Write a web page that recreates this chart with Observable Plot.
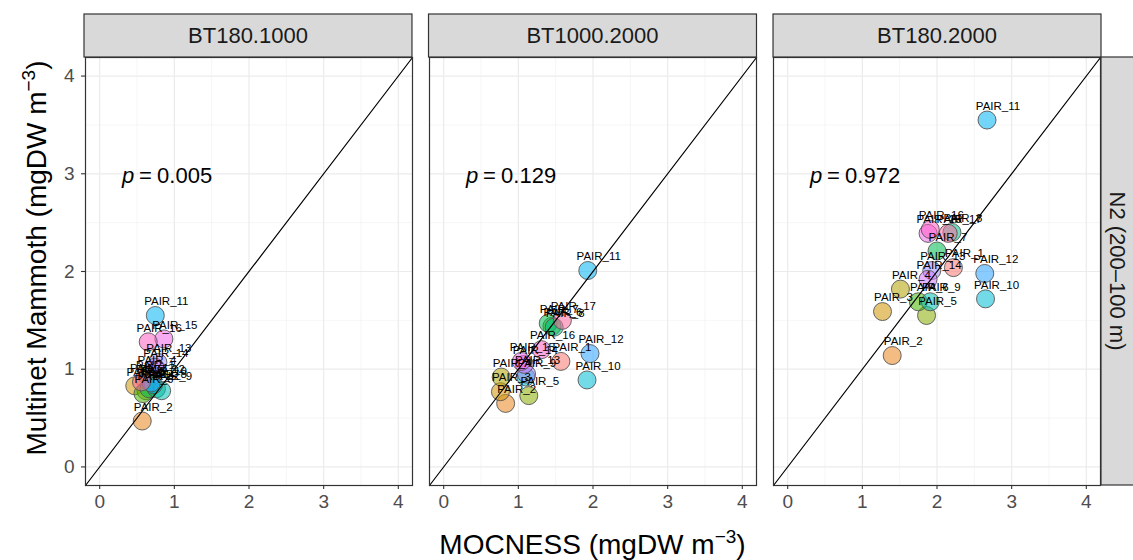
<!DOCTYPE html>
<html>
<head>
<meta charset="utf-8">
<script src="https://cdn.jsdelivr.net/npm/d3@7"></script>
<script src="https://cdn.jsdelivr.net/npm/@observablehq/plot@0.6"></script>
<style>
  html, body { margin: 0; padding: 0; background: #fff; overflow: hidden; }
  #chart svg { display: block; }
  #chart g[aria-label="x-axis tick label"], #chart g[aria-label="y-axis tick label"] { fill: #4d4d4d; }
</style>
</head>
<body>
<div id="chart"></div>
<script>
// ---------- data ----------
const panels = ["BT180.1000", "BT1000.2000", "BT180.2000"];
const rowStrip = "N2 (200\u2013100 m)";
const pairs = ["PAIR_1","PAIR_2","PAIR_3","PAIR_4","PAIR_5","PAIR_6","PAIR_7","PAIR_8","PAIR_9",
               "PAIR_10","PAIR_11","PAIR_12","PAIR_13","PAIR_14","PAIR_15","PAIR_16","PAIR_17"];

// MOCNESS (x) and Multinet Mammoth (y) biomass per pair, per panel
const mocness_BT180_1000  = [0.60,0.57,0.47,0.62,0.62,0.58,0.66,0.76,0.83,0.72,0.745,0.69,0.78,0.74,0.86,0.65,0.56];
const mammoth_BT180_1000  = [0.90,0.47,0.83,0.95,0.78,0.75,0.80,0.80,0.78,0.84,1.55,0.86,1.07,1.02,1.31,1.28,0.87];
const mocness_BT1000_2000 = [1.57,0.83,0.76,0.77,1.14,1.45,1.40,1.48,1.10,1.92,1.93,1.96,1.11,1.08,1.04,1.31,1.59];
const mammoth_BT1000_2000 = [1.08,0.65,0.77,0.92,0.73,1.44,1.47,1.43,0.92,0.89,2.01,1.16,0.95,1.05,1.08,1.20,1.50];
const mocness_BT180_2000  = [2.22,1.40,1.27,1.51,1.86,1.75,2.00,2.20,1.91,2.65,2.67,2.64,1.93,1.88,1.88,1.91,2.15];
const mammoth_BT180_2000  = [2.04,1.14,1.59,1.82,1.55,1.69,2.21,2.40,1.69,1.72,3.55,1.98,2.01,1.92,2.39,2.43,2.39];

const pValues = ["0.005", "0.129", "0.972"];

const majorTicks = [0, 1, 2, 3, 4];
const minorTicks = [0.5, 1.5, 2.5, 3.5];

// ---------- layout / style ----------
const W = 1133, H = 560;
const M = {left: 84, right: 32, top: 57, bottom: 75};
const lim = [-0.19, 4.19];
const pLabelPos = {x: 0.93, y: 3};
const font = '"Liberation Sans", Arial, Helvetica, sans-serif';

// ggplot2-style hue palette (polar LUV, c=100, l=65)
function hclLuv(h, c, l) {
  const Yn = 100, un = 0.1978398, vn = 0.4683363;
  const hr = h * Math.PI / 180;
  const U = c * Math.cos(hr), V = c * Math.sin(hr);
  const Y = Yn * (l > 7.999592 ? Math.pow((l + 16) / 116, 3) : l / 903.3);
  const u = U / (13 * l) + un, v = V / (13 * l) + vn;
  const X = 9 * Y * u / (4 * v);
  const Z = -X / 3 - 5 * Y + 3 * Y / v;
  const g = t => { t = t / Yn; const s = t > 0.0031308 ? 1.055 * Math.pow(t, 1 / 2.4) - 0.055 : 12.92 * t; return Math.max(0, Math.min(1, s)); };
  const r = g(3.240479 * X - 1.537150 * Y - 0.498535 * Z);
  const gg = g(-0.969256 * X + 1.875992 * Y + 0.041556 * Z);
  const b = g(0.055648 * X - 0.204043 * Y + 1.057311 * Z);
  return d3.rgb(r * 255, gg * 255, b * 255).formatHex();
}
const palette = pairs.map((_, i) => hclLuv(15 + i * 360 / pairs.length, 100, 65));

const mocness = [mocness_BT180_1000, mocness_BT1000_2000, mocness_BT180_2000];
const mammoth = [mammoth_BT180_1000, mammoth_BT1000_2000, mammoth_BT180_2000];
const rows = panels.flatMap((panel, k) =>
  pairs.map((pair, i) => ({panel, pair, mocness: mocness[k][i], mammoth: mammoth[k][i]})));
const pRows = panels.map((panel, k) => ({panel, p: pValues[k]}));
const diag = lim.map(v => ({x: v, y: v}));
const intFmt = d => `${d}`;

const plot = Plot.plot({
  width: W, height: H,
  marginLeft: M.left, marginRight: M.right, marginTop: M.top, marginBottom: M.bottom,
  style: {fontFamily: font, background: "#fff", overflow: "hidden"},
  fx: {domain: panels, axis: null, paddingInner: 0.048, paddingOuter: 0},
  x: {domain: lim},
  y: {domain: lim},
  color: {domain: pairs, range: palette},
  marks: [
    Plot.ruleX(minorTicks, {stroke: "#f0f0f0", strokeWidth: 0.6}),
    Plot.ruleY(minorTicks, {stroke: "#f0f0f0", strokeWidth: 0.6}),
    Plot.ruleX(majorTicks, {stroke: "#ebebeb", strokeWidth: 1.2}),
    Plot.ruleY(majorTicks, {stroke: "#ebebeb", strokeWidth: 1.2}),
    Plot.dot(rows, {fx: "panel", x: "mocness", y: "mammoth", r: 9, fill: "pair",
                    fillOpacity: 0.55, stroke: "#555", strokeWidth: 0.9}),
    Plot.text(rows, {fx: "panel", x: "mocness", y: "mammoth", text: "pair",
                     dx: 11, dy: -14, fontSize: 11.5, fill: "#000"}),
    Plot.line(diag, {x: "x", y: "y", stroke: "#000", strokeWidth: 1.2}),
    Plot.text(pRows, {fx: "panel", x: () => pLabelPos.x, y: () => pLabelPos.y, text: () => "p",
                      fontStyle: "italic", fontSize: 22, textAnchor: "start", dx: -47, dy: 2, fill: "#000"}),
    Plot.text(pRows, {fx: "panel", x: () => pLabelPos.x, y: () => pLabelPos.y, text: () => "=",
                      fontSize: 22, textAnchor: "start", dx: -30, dy: 2, fill: "#000"}),
    Plot.text(pRows, {fx: "panel", x: () => pLabelPos.x, y: () => pLabelPos.y, text: "p",
                      fontSize: 22, textAnchor: "start", dx: -12, dy: 2, fill: "#000"}),
    Plot.frame({stroke: "#333", strokeWidth: 1.2}),
    Plot.axisX(majorTicks, {tickSize: 4, tickPadding: 5, fontSize: 19, label: null, tickFormat: intFmt, stroke: "#333", strokeWidth: 1.1}),
    Plot.axisY(majorTicks, {tickSize: 4, tickPadding: 7, fontSize: 19, label: null, tickFormat: intFmt, stroke: "#333", strokeWidth: 1.1})
  ]
});

document.getElementById("chart").appendChild(plot);

// ---------- strips & axis titles ----------
const svg = d3.select(plot);
const band = d3.scaleBand(panels, [M.left, W - M.right]).paddingInner(0.048).paddingOuter(0);
const stripTop = 14;
const g = svg.append("g").attr("font-family", font);
panels.forEach(p => {
  g.append("rect")
    .attr("x", band(p)).attr("y", stripTop)
    .attr("width", band.bandwidth()).attr("height", M.top - stripTop)
    .attr("fill", "#d9d9d9").attr("stroke", "#333").attr("stroke-width", 1.2);
  g.append("text")
    .attr("x", band(p) + band.bandwidth() / 2).attr("y", (stripTop + M.top) / 2)
    .attr("text-anchor", "middle").attr("dominant-baseline", "central")
    .attr("font-size", 22).attr("fill", "#1a1a1a").text(p);
});
const rx = W - M.right;
g.append("rect")
  .attr("x", rx).attr("y", M.top)
  .attr("width", M.top - stripTop).attr("height", H - M.bottom - M.top)
  .attr("fill", "#d9d9d9").attr("stroke", "#333").attr("stroke-width", 1.2);
g.append("text")
  .attr("transform", `translate(${rx + 16},${(M.top + H - M.bottom) / 2}) rotate(90)`)
  .attr("text-anchor", "middle").attr("dominant-baseline", "central")
  .attr("font-size", 22).attr("fill", "#1a1a1a").text(rowStrip);

// x title
const xt = g.append("text")
  .attr("x", (M.left + W - M.right) / 2).attr("y", 554)
  .attr("text-anchor", "middle").attr("font-size", 28).attr("fill", "#000");
xt.append("tspan").text("MOCNESS (mgDW m");
xt.append("tspan").attr("dy", -11).attr("font-size", 19).text("\u22123");
xt.append("tspan").attr("dy", 11).text(")");

// y title
const yt = g.append("text")
  .attr("transform", `translate(46,258) rotate(-90)`)
  .attr("text-anchor", "middle").attr("font-size", 28).attr("fill", "#000");
yt.append("tspan").text("Multinet Mammoth (mgDW m");
yt.append("tspan").attr("dy", -11).attr("font-size", 19).text("\u22123");
yt.append("tspan").attr("dy", 11).text(")");
</script>
</body>
</html>
